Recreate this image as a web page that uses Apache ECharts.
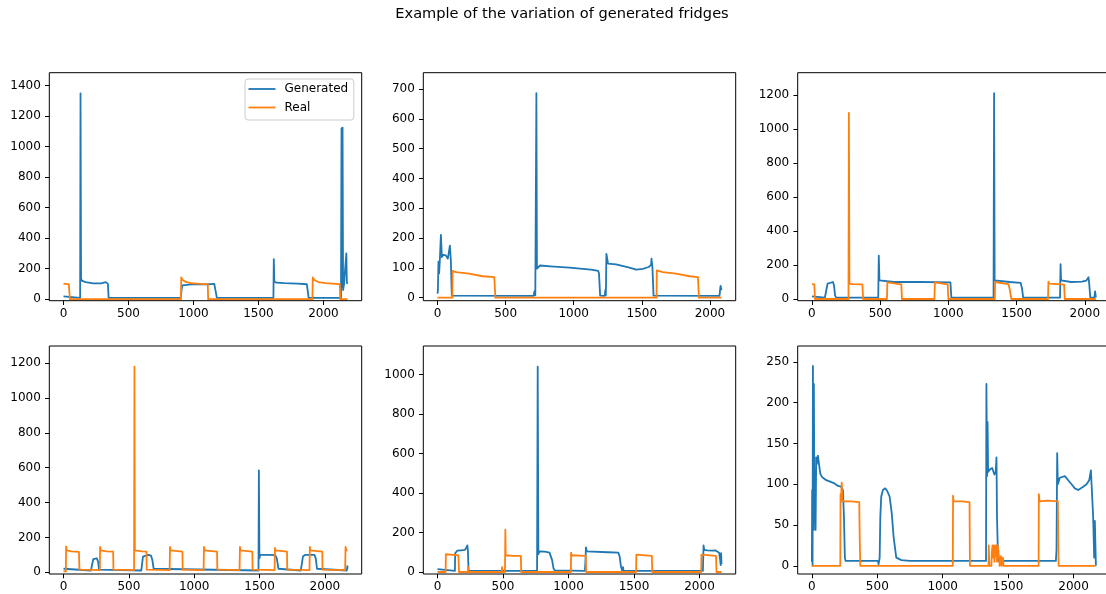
<!DOCTYPE html>
<html><head><meta charset="utf-8">
<script src="https://cdn.jsdelivr.net/npm/echarts@6/dist/echarts.min.js"></script>
<style>html,body{margin:0;padding:0;background:#fff}#c{width:1106px;height:594px}</style>
</head><body><div id="c"></div>
<script>
// ---------------- data ----------------
const chartTitle = 'Example of the variation of generated fridges';
const seriesNames = ['Generated', 'Real'];
const xTicks = [0, 500, 1000, 1500, 2000];
const dataLen = [2185, 2085, 2081, 2173, 2168, 2171];
const yTicks1 = [0, 200, 400, 600, 800, 1000, 1200, 1400];
const yTicks2 = [0, 100, 200, 300, 400, 500, 600, 700];
const yTicks3 = [0, 200, 400, 600, 800, 1000, 1200];
const yTicks4 = [0, 200, 400, 600, 800, 1000, 1200];
const yTicks5 = [0, 200, 400, 600, 800, 1000];
const yTicks6 = [0, 50, 100, 150, 200, 250];

const gen1 = [[0,18],[4,10],[128,8],[131,1350],[135,140],[140,121],[170,112],[230,104],[290,104],[325,112],[338,115],[342,100],[347,8],[903,8],[908,60],[915,90],[930,97],[1000,98],[1100,97],[1160,100],[1170,105],[1174,90],[1180,8],[1615,8],[1618,263],[1622,115],[1640,108],[1700,105],[1800,102],[1872,98],[1880,90],[1886,8],[2135,8],[2139,1120],[2143,80],[2147,1125],[2151,60],[2158,95],[2170,100],[2176,300],[2180,110],[2185,100]];
const real1 = [[0,100],[20,100],[41,97],[45,95],[49,0],[903,0],[906,143],[915,128],[940,113],[980,105],[1050,100],[1110,98],[1113,0],[1915,0],[1918,143],[1928,128],[1960,112],[2020,105],[2100,100],[2126,98],[2129,0],[2185,0]];

const gen2 = [[0,14],[3,25],[7,121],[12,81],[17,125],[25,211],[32,136],[42,144],[61,142],[76,131],[83,125],[91,175],[98,125],[105,7],[110,6],[705,6],[712,22],[718,8],[722,10],[726,686],[730,98],[740,100],[752,108],[830,105],[968,101],[1127,94],[1180,90],[1186,80],[1194,7],[1228,6],[1232,25],[1236,8],[1240,147],[1252,114],[1311,112],[1409,101],[1458,94],[1507,97],[1550,103],[1568,110],[1571,131],[1578,101],[1586,7],[2070,6],[2078,40],[2085,25]];
const real2 = [[0,0],[109,0],[111,90],[135,86],[233,81],[331,72],[417,69],[423,69],[425,0],[1608,0],[1610,92],[1654,86],[1752,81],[1850,72],[1912,69],[1916,69],[1919,0],[2085,0]];

const gen3 = [[0,15],[4,8],[95,8],[105,50],[115,90],[125,100],[155,100],[162,80],[170,20],[178,8],[486,8],[490,255],[495,110],[508,103],[600,100],[800,100],[1015,98],[1022,8],[1331,8],[1335,1210],[1339,110],[1350,105],[1450,100],[1530,95],[1540,60],[1548,8],[1818,8],[1822,205],[1826,110],[1840,102],[1900,100],[1980,102],[2010,108],[2022,110],[2027,128],[2032,90],[2040,8],[2070,8],[2075,45],[2081,10]];
const real3 = [[0,88],[18,86],[22,0],[268,0],[271,1095],[275,90],[300,88],[370,86],[375,0],[550,0],[553,98],[558,88],[655,86],[660,0],[898,0],[901,98],[905,88],[995,86],[1000,0],[1340,0],[1343,100],[1350,92],[1440,88],[1450,55],[1462,0],[1730,0],[1733,102],[1740,90],[1800,88],[1848,85],[1853,0],[2081,0]];

const gen4 = [[0,20],[3,10],[210,10],[218,40],[228,75],[240,85],[255,80],[265,60],[272,15],[280,10],[595,10],[600,40],[608,90],[620,100],[650,100],[670,95],[680,70],[690,20],[700,10],[1492,10],[1495,585],[1499,80],[1505,100],[1560,100],[1620,98],[1632,80],[1645,20],[1655,10],[1815,10],[1822,40],[1832,90],[1850,100],[1920,100],[1930,80],[1940,20],[1950,10],[2168,10],[2172,35],[2173,20]];
const real4 = [[0,5],[18,5],[20,148],[25,125],[60,120],[118,117],[122,15],[278,12],[280,145],[285,125],[330,120],[380,118],[382,15],[540,12],[543,1180],[546,125],[600,120],[635,118],[637,15],[812,12],[815,145],[820,125],[910,118],[912,15],[1072,12],[1075,145],[1080,125],[1175,118],[1177,15],[1347,12],[1350,145],[1355,125],[1445,118],[1447,15],[1615,12],[1618,140],[1623,125],[1710,118],[1712,15],[1882,12],[1885,145],[1890,125],[1980,118],[1982,15],[2155,12],[2158,145],[2165,125],[2173,125]];

const gen5 = [[0,15],[4,6],[133,6],[135,95],[140,100],[150,108],[180,110],[210,112],[220,118],[228,135],[232,110],[237,6],[760,6],[765,1040],[770,90],[778,105],[820,103],[855,98],[865,90],[875,60],[885,20],[895,8],[900,6],[1125,6],[1130,60],[1133,125],[1140,105],[1148,100],[1300,100],[1380,98],[1390,80],[1400,30],[1410,6],[1416,25],[1420,6],[2026,6],[2028,60],[2031,135],[2036,112],[2060,110],[2100,108],[2120,110],[2150,98],[2158,60],[2162,35],[2165,95],[2168,40]];
const real5 = [[0,0],[62,0],[64,90],[68,85],[160,84],[164,0],[232,0],[235,25],[238,0],[490,0],[493,25],[497,0],[515,0],[518,215],[521,85],[580,82],[636,82],[639,0],[1018,0],[1020,98],[1025,85],[1132,82],[1135,0],[1516,0],[1518,88],[1525,85],[1636,82],[1640,0],[2013,0],[2015,88],[2020,85],[2126,82],[2130,0],[2168,0]];

const gen6 = [[0,5],[2,93],[5,0],[8,245],[10,85],[13,44],[15,223],[20,52],[23,117],[28,44],[33,133],[38,125],[46,135],[54,125],[64,113],[77,109],[110,105],[173,101],[200,98],[224,97],[237,93],[245,60],[252,10],[258,6],[505,6],[510,2],[518,10],[523,60],[530,85],[543,93],[560,95],[575,92],[594,85],[610,65],[625,35],[645,10],[684,7],[750,6],[1331,6],[1334,223],[1339,110],[1343,176],[1347,115],[1360,118],[1378,120],[1395,112],[1405,115],[1411,133],[1415,60],[1423,6],[1865,6],[1870,20],[1875,138],[1880,100],[1895,108],[1934,110],[1959,105],[1985,100],[2010,95],[2036,93],[2074,97],[2099,100],[2120,105],[2133,117],[2138,100],[2150,60],[2158,10],[2163,55],[2171,0]];
const real6 = [[0,0],[217,0],[219,88],[222,78],[228,102],[233,80],[250,79],[300,79],[362,78],[366,30],[370,0],[1077,0],[1079,86],[1083,79],[1150,79],[1205,78],[1208,0],[1350,0],[1352,25],[1356,0],[1372,0],[1375,15],[1380,25],[1385,10],[1390,25],[1395,5],[1400,25],[1405,12],[1410,25],[1415,5],[1420,25],[1428,15],[1435,0],[1445,12],[1450,0],[1460,10],[1465,0],[1733,0],[1735,88],[1740,79],[1800,80],[1880,79],[1886,0],[2171,0]];

// ---------------- build ----------------
const gens = [gen1, gen2, gen3, gen4, gen5, gen6];
const reals = [real1, real2, real3, real4, real5, real6];
const yTicks = [yTicks1, yTicks2, yTicks3, yTicks4, yTicks5, yTicks6];
const colors = ['#1f77b4', '#ff7f0e'];
const FONT = 'DejaVu Sans';
const gridLeft = [49.3, 423.3, 797.7], gridTop = [72.7, 346], GW = 312.4, GH = 228;
const plain = v => String(v);

const grids = [], xAxes = [], yAxes = [], series = [];
for (let i = 0; i < 6; i++) {
  const col = i % 3, row = Math.floor(i / 3);
  grids.push({left: gridLeft[col], top: gridTop[row], width: GW, height: GH, show: true,
    borderColor: '#000', borderWidth: 1, backgroundColor: 'transparent',
    containLabel: false, outerBoundsMode: 'none'});
  const L = dataLen[i];
  xAxes.push({gridIndex: i, type: 'value', min: -0.05 * L, max: 1.05 * L,
    axisLine: {show: false, onZero: false}, splitLine: {show: false},
    axisTick: {show: true, customValues: xTicks, length: 4.3, lineStyle: {color: '#000', width: 1}},
    axisLabel: {customValues: xTicks, formatter: plain, margin: 7, fontSize: 12, color: '#000', fontFamily: FONT}});
  const all = gens[i].concat(reals[i]).map(p => p[1]);
  const ymax = 1.1 * Math.max.apply(null, all);
  yAxes.push({gridIndex: i, type: 'value', min: -10, max: ymax,
    axisLine: {show: false, onZero: false}, splitLine: {show: false},
    axisTick: {show: true, customValues: yTicks[i], length: 4.3, lineStyle: {color: '#000', width: 1}},
    axisLabel: {customValues: yTicks[i], formatter: plain, margin: 8.5, fontSize: 12, color: '#000', fontFamily: FONT}});
  [gens[i], reals[i]].forEach((d, k) => {
    series.push({name: seriesNames[k], type: 'line', xAxisIndex: i, yAxisIndex: i, data: d,
      symbol: 'none', showSymbol: false, silent: true, clip: true, animation: false,
      lineStyle: {color: colors[k], width: 1.8, join: 'round'}, itemStyle: {color: colors[k]}});
  });
}

const chart = echarts.init(document.getElementById('c'), null, {renderer: 'canvas'});
chart.setOption({
  animation: false,
  backgroundColor: '#fff',
  title: {text: chartTitle, left: 562, top: 7, textAlign: 'center', padding: 0,
    textStyle: {fontFamily: FONT, fontSize: 14.6, fontWeight: 'normal', color: '#000'}},
  legend: {data: seriesNames.map(n => ({name: n, icon: 'rect'})), orient: 'vertical', left: 245, top: 79,
    padding: [3, 5.6, 5.5, 3.5], itemGap: 4.5, itemWidth: 27, itemHeight: 1.8,
    backgroundColor: 'rgba(255,255,255,0.8)', borderColor: '#cccccc', borderWidth: 1, borderRadius: 3,
    selectedMode: false,
    textStyle: {fontFamily: FONT, fontSize: 12, color: '#000', lineHeight: 14, padding: [0, 0, 0, 4]}},
  grid: grids, xAxis: xAxes, yAxis: yAxes, series: series
});
</script></body></html>
